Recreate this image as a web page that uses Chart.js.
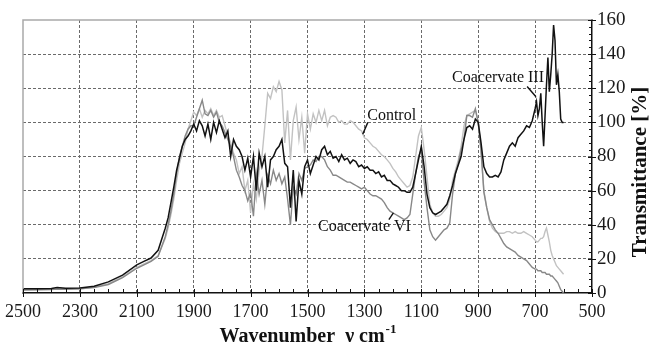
<!DOCTYPE html>
<html>
<head>
<meta charset="utf-8">
<script src="https://cdn.jsdelivr.net/npm/chart.js@4"></script>
<style>
  html, body { margin: 0; padding: 0; background: #fff; }
  #grafico { display: block; }
</style>
</head>
<body>
<canvas id="grafico" width="653" height="350"></canvas>
<script>
// wavenumbers (cm-1), shared by the three spectra
const wavenumber = [
  2500, 2450, 2400, 2380, 2350, 2300, 2250, 2200, 2150, 2100, 2075, 2050, 2025,
  2000, 1990, 1980, 1970, 1960, 1950, 1940, 1930, 1920, 1910,
  1900, 1890, 1880, 1870, 1860, 1850, 1840, 1830, 1820, 1810,
  1800, 1790, 1780, 1770, 1760, 1750, 1740, 1730, 1720, 1710,
  1700, 1690, 1680, 1670, 1660, 1650, 1640, 1630, 1620, 1610,
  1600, 1590, 1580, 1570, 1560, 1550, 1540, 1530, 1520, 1510,
  1500, 1490, 1480, 1470, 1460, 1450, 1440, 1430, 1420, 1410,
  1400, 1390, 1380, 1370, 1360, 1350, 1340, 1330, 1320, 1310,
  1300, 1290, 1280, 1270, 1260, 1250, 1240, 1230, 1220, 1210,
  1200, 1190, 1180, 1170, 1160, 1150, 1140, 1130, 1120, 1110,
  1100, 1090, 1080, 1070, 1060, 1050, 1040, 1030, 1020, 1010,
  1000, 990, 980, 970, 960, 950, 940, 930, 920, 910,
  900, 890, 880, 870, 860, 850, 840, 830, 820, 810,
  800, 790, 780, 770, 760, 750, 740, 730, 720, 710,
  700, 695, 690, 685, 680, 675, 670, 665, 660, 655,
  650, 645, 640, 635, 630, 625, 620, 615, 610, 605,
  600
];

// transmittance [%]
const controlT = [
  2, 2, 2.2, 2.5, 2.4, 2.5, 3.5, 5.5, 9.5, 15, 17, 19, 22,
  32, 38, 46, 55, 66, 76, 82, 88, 96, 101,
  106, 104, 108, 103, 107, 105, 108, 104, 107, 103,
  104, 98, 92, 88, 82, 78, 70, 74, 60, 66,
  47, 64, 55, 72, 80, 98, 117, 114, 121, 118,
  124, 119, 88, 107, 78, 101, 109, 90, 103, 82,
  105, 96, 105, 100, 107, 101, 107, 98, 103, 104,
  103, 100, 101, 99, 99, 101, 100, 98, 96, 95,
  91, 90, 88, 86, 85, 83, 81, 80, 78, 76,
  73, 71, 68, 66, 64, 62, 63, 68, 80, 92,
  97, 84, 68, 52, 47, 45, 45, 46, 48, 50,
  55, 66, 72, 78, 86, 98, 104, 105, 106, 107,
  100, 82, 60, 50, 42, 38, 36, 35, 35, 35,
  36, 36, 35, 36, 35, 35, 36, 35, 34, 33,
  31, 30, 30, 31, 32, 32, 33, 36, 38, 34,
  30, 25, 22, 20, 18, 16, 15, 14, 13, 12,
  11
];

const coacervateIII = [
  2.5, 2.5, 2.6, 3.2, 2.8, 3, 4, 6.5, 10.5, 16.5, 18.5, 20.5, 25,
  38, 44, 53, 62, 72, 79, 86, 90, 92, 95,
  99, 95, 101, 98, 92, 99, 90, 100, 94, 101,
  96, 91, 95, 80, 90, 86, 84, 80, 72, 79,
  68, 80, 60, 82, 74, 80, 62, 78, 80, 84,
  86, 90, 76, 74, 50, 72, 42, 66, 58, 74,
  78, 70, 75, 80, 78, 84, 86, 81, 83, 79,
  80, 77, 81, 78, 79, 76, 78, 77, 74, 75,
  73, 74, 72, 72, 70, 71, 68, 69, 66, 66,
  64, 63, 62, 60, 60, 59, 59, 62, 70, 78,
  86, 74, 58, 50, 47, 46, 47, 48, 50, 52,
  57, 63, 70, 75, 80, 90, 97, 98, 96, 102,
  100, 88, 74, 70, 68, 68, 69, 68, 71, 78,
  82, 86, 88, 86, 91, 93, 95, 98, 97, 101,
  108, 112, 104, 108, 117, 100, 86, 104, 122, 138,
  118, 128, 140, 157, 148, 122, 128, 118, 102, 100,
  100
];

const coacervateVI = [
  1.8, 1.9, 2, 2.3, 2.2, 2.4, 3.2, 5, 9, 14.5, 16.5, 18.5, 21.5,
  33, 40, 48, 58, 70, 80, 86, 92, 96, 98,
  98, 103, 108, 113, 105, 104, 107, 103, 106, 100,
  98, 94, 90, 86, 80, 72, 68, 63, 60, 54,
  59, 45, 70, 58, 66, 52, 69, 64, 72, 66,
  70, 64, 68, 55, 40, 62, 58, 70, 66, 73,
  74, 75, 78, 77, 80, 80, 78, 74, 72, 69,
  69, 68, 67, 66, 65, 65, 64, 63, 62, 61,
  62, 60, 58, 57, 57, 56, 55, 53, 50, 48,
  47, 46, 45, 44, 43, 44, 46, 58, 70, 80,
  84, 65, 50, 37, 33, 31, 33, 35, 37, 38,
  41, 58, 70, 76, 84, 90, 104, 104, 103, 108,
  100, 84, 59, 50, 43, 40, 37, 35, 32, 29,
  27, 26, 25, 24, 22, 21, 20, 19, 17, 15,
  14, 14, 13, 13, 13, 12, 12, 12, 11, 11,
  11, 10, 10, 9, 8, 7, 6, 4, 2, 1,
  0
];

const xTicks = [2500, 2300, 2100, 1900, 1700, 1500, 1300, 1100, 900, 700, 500];
const yTicks = [0, 20, 40, 60, 80, 100, 120, 140, 160];

// curve labels: text anchor and leader line, in data units
const rotulos = [
  { texto: 'Control', x: 1290, y: 104, de: [1288, 100], ate: [1306, 93] },
  { texto: 'Coacervate VI', x: 1463, y: 39, de: [1214, 43], ate: [1198, 47] },
  { texto: 'Coacervate III', x: 992, y: 126, de: [728, 121], ate: [697, 115] }
];

const serif = 'Liberation Serif, Times New Roman, serif';

function pontos(valores) {
  return wavenumber.map((w, i) => ({ x: w, y: valores[i] }));
}

const extras = {
  id: 'extras',
  afterDraw(chart) {
    const { ctx, chartArea: a, scales: { x, y } } = chart;
    ctx.save();

    // light frame on top and left
    ctx.strokeStyle = '#a9a9a9';
    ctx.lineWidth = 1.5;
    ctx.beginPath();
    ctx.moveTo(a.left, a.bottom);
    ctx.lineTo(a.left, a.top);
    ctx.lineTo(a.right, a.top);
    ctx.stroke();

    // tick marks
    ctx.strokeStyle = '#111';
    ctx.lineWidth = 1;
    ctx.beginPath();
    for (let v = 500; v <= 2500; v += 50) {
      const px = Math.round(x.getPixelForValue(v)) + 0.5;
      const maior = xTicks.includes(v);
      ctx.moveTo(px, a.bottom - 4);
      ctx.lineTo(px, a.bottom + (maior ? 4 : 0));
    }
    for (let v = 0; v <= 160; v += 4) {
      const py = Math.round(y.getPixelForValue(v)) + 0.5;
      const maior = yTicks.includes(v);
      ctx.moveTo(a.right - (maior ? 4 : 3), py);
      ctx.lineTo(a.right + (maior ? 4 : 0), py);
    }
    ctx.stroke();

    // curve labels
    ctx.fillStyle = '#111';
    ctx.font = '16px ' + serif;
    ctx.textAlign = 'left';
    ctx.textBaseline = 'middle';
    ctx.lineWidth = 1.4;
    rotulos.forEach(r => {
      ctx.fillText(r.texto, x.getPixelForValue(r.x), y.getPixelForValue(r.y));
      ctx.beginPath();
      ctx.moveTo(x.getPixelForValue(r.de[0]), y.getPixelForValue(r.de[1]));
      ctx.lineTo(x.getPixelForValue(r.ate[0]), y.getPixelForValue(r.ate[1]));
      ctx.stroke();
    });

    // axis titles
    ctx.save();
    ctx.translate(641, 172);
    ctx.rotate(-Math.PI / 2);
    ctx.textAlign = 'center';
    ctx.font = 'bold 21px ' + serif;
    ctx.fillText('Transmittance [%]', 0, 0);
    ctx.restore();

    const principal = 'Wavenumber  \u03bd cm';
    const sup = '-1';
    ctx.font = 'bold 20px ' + serif;
    const w1 = ctx.measureText(principal).width;
    ctx.font = 'bold 13px ' + serif;
    const w2 = ctx.measureText(sup).width;
    const x0 = (a.left + a.right) / 2 - (w1 + w2) / 2;
    ctx.textAlign = 'left';
    ctx.font = 'bold 20px ' + serif;
    ctx.fillText(principal, x0, 337);
    ctx.font = 'bold 13px ' + serif;
    ctx.fillText(sup, x0 + w1 + 1, 330);

    ctx.restore();
  }
};

const semBorda = (lista) => (c) => {
  const v = c.tick ? c.tick.value : null;
  return (v === lista[0] || v === lista[lista.length - 1]) ? 'rgba(0,0,0,0)' : '#6a6a6a';
};

new Chart(document.getElementById('grafico').getContext('2d'), {
  type: 'line',
  data: {
    datasets: [
      { label: 'Coacervate III', data: pontos(coacervateIII), borderColor: '#121212', borderWidth: 1.5, order: 0 },
      { label: 'Coacervate VI', data: pontos(coacervateVI), borderColor: '#888888', borderWidth: 1.4, order: 1 },
      { label: 'Control', data: pontos(controlT), borderColor: '#c2c2c2', borderWidth: 1.4, order: 2 }
    ]
  },
  options: {
    responsive: false,
    animation: false,
    elements: { point: { radius: 0 }, line: { tension: 0 } },
    layout: { padding: { top: 20, left: 23, right: 0, bottom: 0 } },
    plugins: { legend: { display: false }, tooltip: { enabled: false } },
    scales: {
      x: {
        type: 'linear',
        reverse: true,
        min: 500,
        max: 2500,
        afterBuildTicks: s => { s.ticks = xTicks.map(v => ({ value: v })); },
        afterFit: s => { s.height = 57; s.paddingLeft = 0; s.paddingRight = 0; },
        ticks: { color: '#1a1a1a', font: { family: serif, size: 18 }, padding: 8, maxRotation: 0, autoSkip: false, callback: v => String(v) },
        grid: { color: semBorda(xTicks), lineWidth: 1, drawTicks: false },
        border: { display: true, color: '#111', width: 1.5, dash: [3, 2] }
      },
      y: {
        position: 'right',
        min: 0,
        max: 160,
        afterBuildTicks: s => { s.ticks = yTicks.map(v => ({ value: v })); },
        afterFit: s => { s.width = 61; s.paddingTop = 0; s.paddingBottom = 0; },
        ticks: { color: '#1a1a1a', font: { family: serif, size: 19 }, padding: 5, callback: v => String(v) },
        grid: { color: semBorda(yTicks), lineWidth: 1, drawTicks: false },
        border: { display: true, color: '#111', width: 1.5, dash: [3, 2] }
      }
    }
  },
  plugins: [extras]
});
</script>
</body>
</html>
